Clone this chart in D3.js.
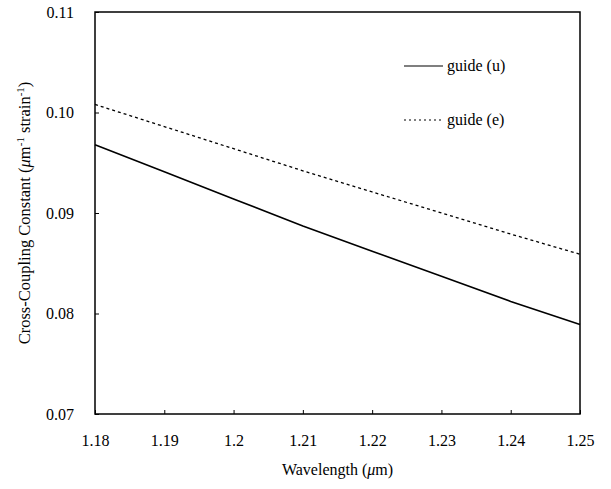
<!DOCTYPE html>
<html>
<head>
<meta charset="utf-8">
<script src="https://cdn.jsdelivr.net/npm/d3@7"></script>
<style>
  body { margin: 0; background: #fff; }
</style>
</head>
<body>
<div id="chart"></div>
<script>
// wavelength (um) and cross-coupling constants
var wavelength = [1.18, 1.19, 1.20, 1.21, 1.22, 1.23, 1.24, 1.25];
var guideU = [0.0968, 0.0941, 0.0914, 0.0887, 0.0862, 0.0837, 0.0812, 0.0789];
var guideE = [0.1008, 0.0986, 0.0964, 0.0942, 0.0921, 0.0900, 0.0879, 0.0859];
var xTicks = [1.18, 1.19, 1.2, 1.21, 1.22, 1.23, 1.24, 1.25];
var yTicks = [0.07, 0.08, 0.09, 0.10, 0.11];

var serif = '"Liberation Serif", "Times New Roman", serif';

var svgWidth = 611;
var svgHeight = 489;
var margin = { top: 12, right: 31, bottom: 75, left: 95 };
var chartWidth = svgWidth - margin.left - margin.right;
var chartHeight = svgHeight - margin.top - margin.bottom;

var svg = d3.select("#chart").append("svg")
  .attr("width", svgWidth)
  .attr("height", svgHeight)
  .attr("font-family", serif);

var chartGroup = svg.append("g")
  .attr("transform", `translate(${margin.left}, ${margin.top})`);

var xScale = d3.scaleLinear().domain([1.18, 1.25]).range([0, chartWidth]);
var yScale = d3.scaleLinear().domain([0.07, 0.11]).range([chartHeight, 0]);

// axes with ticks pointing inward
var bottomAxis = d3.axisBottom(xScale)
  .tickValues(xTicks)
  .tickSize(-4)
  .tickPadding(21)
  .tickFormat(d => d === 1.2 ? "1.2" : d3.format(".2f")(d));
var leftAxis = d3.axisLeft(yScale)
  .tickValues(yTicks)
  .tickSize(-4)
  .tickPadding(21)
  .tickFormat(d3.format(".2f"));

var xg = chartGroup.append("g")
  .attr("transform", `translate(0, ${chartHeight})`)
  .call(bottomAxis);
var yg = chartGroup.append("g").call(leftAxis);

[xg, yg].forEach(function(g) {
  g.attr("font-family", serif).attr("font-size", 16);
  g.select(".domain").remove();
  g.selectAll("line").attr("stroke", "#000");
  g.selectAll("text").attr("fill", "#000");
});

// plot frame
chartGroup.append("rect")
  .attr("width", chartWidth)
  .attr("height", chartHeight)
  .attr("fill", "none")
  .attr("stroke", "#000")
  .attr("stroke-width", 1.5);

var line = d3.line()
  .x((d, i) => xScale(wavelength[i]))
  .y(d => yScale(d));

chartGroup.append("path")
  .datum(guideU)
  .attr("d", line)
  .attr("fill", "none")
  .attr("stroke", "#000")
  .attr("stroke-width", 1.6);

chartGroup.append("path")
  .datum(guideE)
  .attr("d", line)
  .attr("fill", "none")
  .attr("stroke", "#000")
  .attr("stroke-width", 1.3)
  .attr("stroke-dasharray", "3,3");

// legend
var legend = [
  { name: "guide (u)", dash: null },
  { name: "guide (e)", dash: "2,3" }
];
legend.forEach(function(d, i) {
  var ly = 54 + i * 54;
  chartGroup.append("line")
    .attr("x1", 309).attr("x2", 348)
    .attr("y1", ly).attr("y2", ly)
    .attr("stroke", "#000")
    .attr("stroke-width", 1.2)
    .attr("stroke-dasharray", d.dash);
  chartGroup.append("text")
    .attr("x", 352)
    .attr("y", ly + 5)
    .attr("font-size", 16)
    .text(d.name);
});

// y axis title
var yTitle = svg.append("text")
  .attr("transform", `translate(30, ${margin.top + chartHeight / 2}) rotate(-90)`)
  .attr("text-anchor", "middle")
  .attr("font-size", 16.5);
yTitle.append("tspan").text("Cross-Coupling Constant (");
yTitle.append("tspan").attr("font-style", "italic").text("\u03bc");
yTitle.append("tspan").text("m");
yTitle.append("tspan").attr("dy", "-6").attr("font-size", 11).text("-1");
yTitle.append("tspan").attr("dy", "6").text(" strain");
yTitle.append("tspan").attr("dy", "-6").attr("font-size", 11).text("-1");
yTitle.append("tspan").attr("dy", "6").text(")");

// x axis title
var xTitle = svg.append("text")
  .attr("x", margin.left + chartWidth / 2)
  .attr("y", 475)
  .attr("text-anchor", "middle")
  .attr("font-size", 16);
xTitle.append("tspan").text("Wavelength (");
xTitle.append("tspan").attr("font-style", "italic").text("\u03bc");
xTitle.append("tspan").text("m)");
</script>
</body>
</html>
